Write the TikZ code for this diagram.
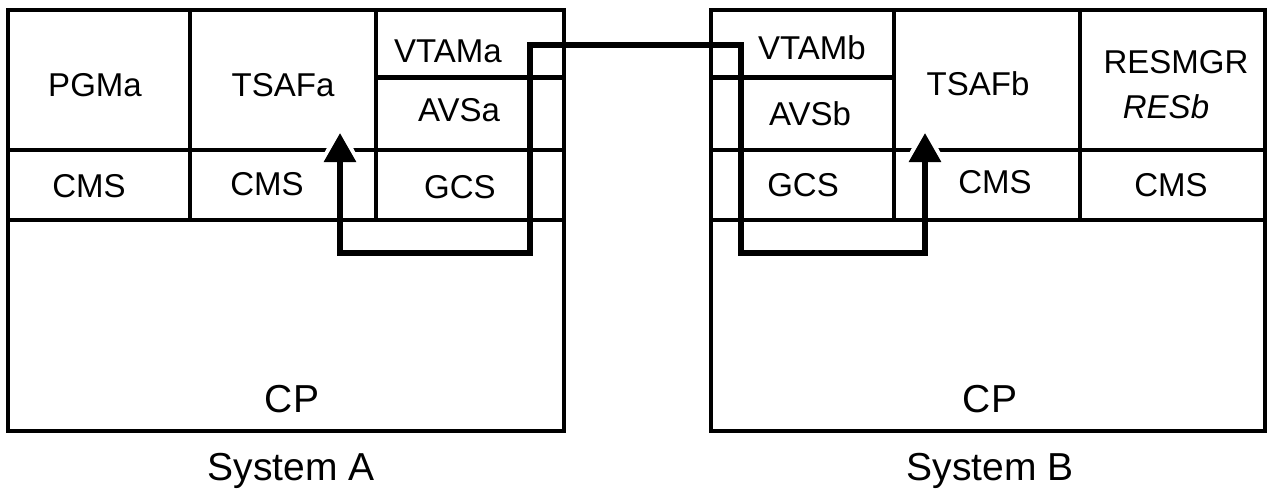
\documentclass[tikz,border=0pt]{standalone}
\usepackage{fontspec}
\setmainfont{Liberation Sans}
\usetikzlibrary{arrows.meta}
\begin{document}
\begin{tikzpicture}[x=1pt,y=-1pt,
  box/.style={draw=black, line width=4.5pt},
  lbl/.style={inner sep=0pt, font=\fontsize{33}{36}\selectfont, text height=23.6pt, text depth=0pt},
  big/.style={inner sep=0pt, font=\fontsize{39}{44}\selectfont, text height=27.9pt, text depth=0pt},
  link/.style={line width=6pt, line join=miter,
    {Triangle[length=29pt,width=31pt]}-{Triangle[length=29pt,width=31pt]}},
  halo/.style={fill=white, draw=white, line width=9pt, line join=round}]
\useasboundingbox (0,0) rectangle (1269,490);
% ---------- System A ----------
\draw[box] (8,10) rectangle (564,431);
\draw[box] (190,10) -- (190,220);
\draw[box] (376,10) -- (376,220);
\draw[box] (376,77.5) -- (564,77.5);
\draw[box] (8,150) -- (564,150);
\draw[box] (8,220) -- (564,220);
% ---------- System B ----------
\draw[box] (711,10) rectangle (1265,431);
\draw[box] (894,10) -- (894,220);
\draw[box] (1080,10) -- (1080,220);
\draw[box] (711,77.5) -- (894,77.5);
\draw[box] (711,150) -- (1265,150);
\draw[box] (711,220) -- (1265,220);
% ---------- labels ----------
\node[lbl] (pgma)  at (95,85)   {PGMa};
\node[lbl] (tsafa) at (283,85)  {TSAFa};
\node[lbl] (vtama) at (448,51)  {VTAMa};
\node[lbl] (avsa)  at (459,110) {AVSa};
\node[lbl] (cmsa1) at (89,186)  {CMS};
\node[lbl] (cmsa2) at (267,184) {CMS};
\node[lbl] (gcsa)  at (460,187) {GCS};
\node[big] (cpa)   at (292,399) {CP};
\node[big] (sysa)  at (291,467) {System A};
\node[lbl] (vtamb) at (812,48)  {VTAMb};
\node[lbl] (avsb)  at (810,114) {AVSb};
\node[lbl] (gcsb)  at (803,185) {GCS};
\node[lbl] (tsafb) at (978,84)  {TSAFb};
\node[lbl] (cmsb1) at (995,182) {CMS};
\node[lbl] (resmgr) at (1176,62) {RESMGR};
\node[lbl] (resb)  at (1166,107) {\itshape RESb};
\node[lbl] (cmsb2) at (1171,185) {CMS};
\node[big] (cpb)   at (990,399) {CP};
\node[big] (sysb)  at (990,467) {System B};
% ---------- connector ----------
\coordinate (tipA) at (340,133);
\coordinate (tipB) at (925,133);
\coordinate (botA) at (340,253);
\coordinate (vA)   at (530,253);
\coordinate (topA) at (530,45);
\coordinate (topB) at (741,45);
\coordinate (vB)   at (741,253);
\coordinate (botB) at (925,253);
\path[halo] (tipA) -- (324.5,162) -- (355.5,162) -- cycle;
\path[halo] (tipB) -- (909.5,162) -- (940.5,162) -- cycle;
\draw[link] (tipA) -- (botA) -- (vA) -- (topA) -- (topB) -- (vB) -- (botB) -- (tipB);
\end{tikzpicture}
\end{document}
